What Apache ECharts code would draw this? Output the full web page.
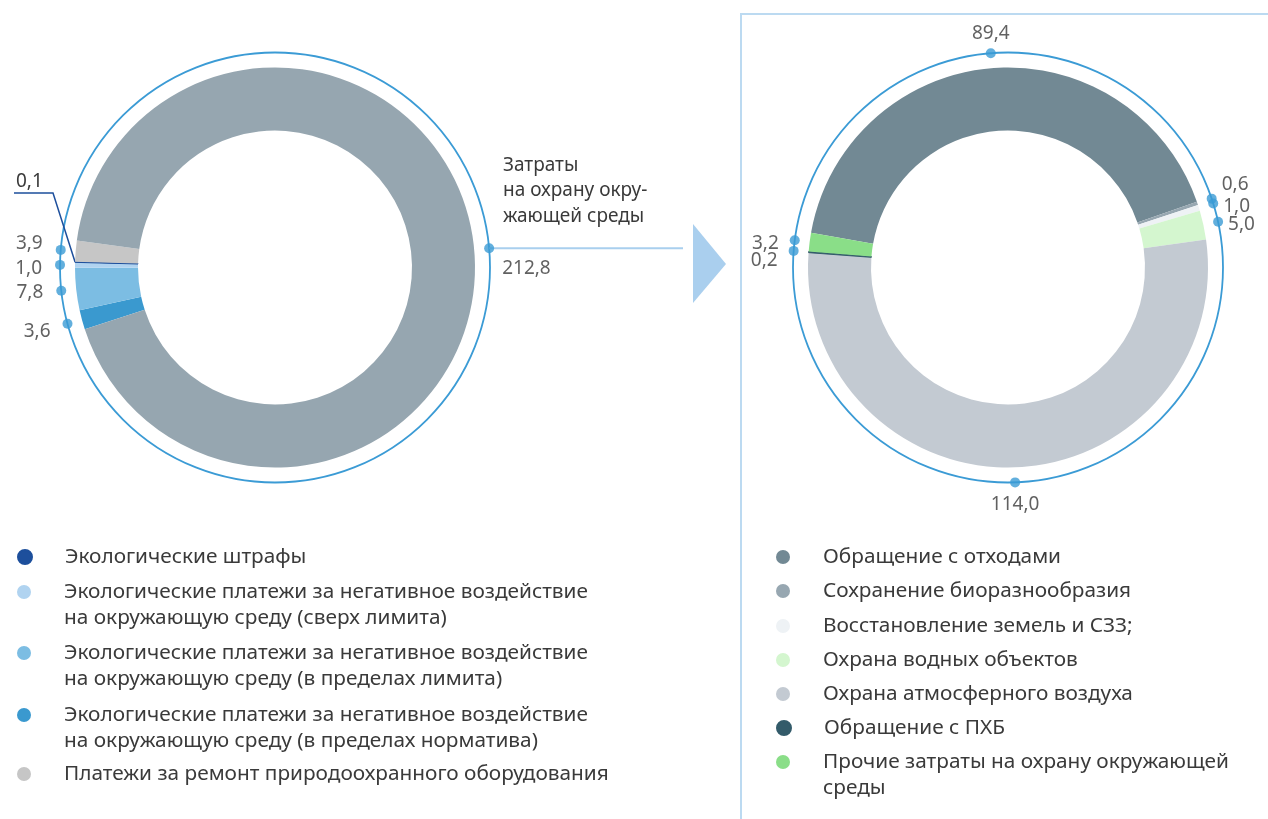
<!DOCTYPE html>
<html>
<head>
<meta charset="utf-8">
<script src="https://cdn.jsdelivr.net/npm/echarts@6/dist/echarts.min.js"></script>
<style>
  html, body { margin: 0; padding: 0; background: #fff; }
  #chart { width: 1268px; height: 819px; }
</style>
</head>
<body>
<div id="chart"></div>
<script>
// левая диаграмма: платежи (порядок как в легенде, последний - большой сектор)
var leftNames = [
  'Экологические штрафы',
  'Экологические платежи за негативное воздействие\nна окружающую среду (сверх лимита)',
  'Экологические платежи за негативное воздействие\nна окружающую среду (в пределах лимита)',
  'Экологические платежи за негативное воздействие\nна окружающую среду (в пределах норматива)',
  'Платежи за ремонт природоохранного оборудования',
  'Затраты на охрану окружающей среды'
];
var leftValues = [0.1, 1.0, 7.8, 3.6, 3.9, 212.8];
var leftColors = ['#1d4f9c', '#b0d3f0', '#7cbde3', '#3a99cf', '#c6c6c6', '#96a6b0'];
var leftOrder = [3, 2, 1, 0, 4, 5]; // по часовой стрелке

// правая диаграмма: структура затрат
var rightNames = [
  'Обращение с отходами',
  'Сохранение биоразнообразия',
  'Восстановление земель и СЗЗ;',
  'Охрана водных объектов',
  'Охрана атмосферного воздуха',
  'Обращение с ПХБ',
  'Прочие затраты на охрану окружающей\nсреды'
];
var rightValues = [89.4, 0.6, 1.0, 5.0, 114.0, 0.2, 3.2];
var rightColors = ['#728994', '#97a7b1', '#eef2f5', '#d4f6cf', '#c3cad2', '#335b6a', '#8ade88'];
var rightOrder = [0, 1, 2, 3, 4, 5, 6];

var totalTitle = 'Затраты\nна охрану окру-\nжающей среды';

var FONT = 'Noto Sans';
var TXT = '#3a3a3a';
var BLUE = '#3b9bd5';
var LH = 26;

// подписи у точек (по индексу в легенде)
var leftLabelCfg = [
  null,
  { position: 'left', distance: 13, offset: [0, 4] },
  { position: 'left', distance: 13, offset: [0, 2] },
  { position: 'left', distance: 12, offset: [0, 8] },
  { position: 'left', distance: 13, offset: [0, -6] },
  { position: [18, 25], align: 'left', verticalAlign: 'middle' }
];
var rightLabelCfg = [
  { position: 'top', distance: 5 },
  { position: 'right', distance: 5, offset: [0, -14] },
  { position: 'right', distance: 5, offset: [0, 3] },
  { position: 'right', distance: 5, offset: [0, 3] },
  { position: 'bottom', distance: 8 },
  { position: 'left', distance: 11, offset: [0, 10] },
  { position: 'left', distance: 11, offset: [0, 3] }
];
var leftLegendY = [557, 592, 653, 715, 774];
var rightLegendY = [557, 591, 626, 660, 694, 728, 762];

function fmt(v) { return v.toFixed(1).replace('.', ','); }
function sum(a) { return a.reduce(function (s, v) { return s + v; }, 0); }

function pieData(names, values, colors, order, leader) {
  return order.map(function (i) {
    var item = { name: names[i], value: values[i], itemStyle: { color: colors[i] } };
    if (i === leader) {
      item.itemStyle.borderColor = colors[i];
      item.itemStyle.borderWidth = 1;
      item.label = { show: true, position: 'outside', formatter: fmt(values[i]),
        fontSize: 19, fontFamily: FONT, color: TXT };
      item.labelLine = { show: true, length: 10, length2: 10, lineStyle: { color: colors[i], width: 1.5 } };
    }
    return item;
  });
}

function dotData(values, order, cfg) {
  var acc = 0, out = [];
  order.forEach(function (i) {
    var v = values[i];
    if (cfg[i]) {
      out.push({
        value: [1, acc + v / 2, v],
        label: Object.assign({ show: true, formatter: fmt(v), fontSize: 19, fontFamily: FONT, color: TXT }, cfg[i])
      });
    }
    acc += v;
  });
  return out;
}

// одна легенда на пункт: значок напротив первой строки
function legends(names, ys, x) {
  return names.map(function (n, k) {
    var extra = n.split('\n').length - 1;
    return {
      data: [n], left: x - 7, top: ys[k] - LH / 2 - extra * LH, padding: 0,
      icon: 'circle', itemWidth: 14, itemHeight: 14, selectedMode: false,
      formatter: function (name) { return new Array(extra + 1).join('\n') + name; },
      textStyle: { fontSize: 20.8, fontFamily: FONT, color: TXT, lineHeight: LH, padding: [0, 0, 0, 28] }
    };
  });
}

function angleAxis(idx, total, start) {
  return {
    polarIndex: idx, type: 'value', min: 0, max: total, startAngle: start, clockwise: true,
    axisLine: { show: true, lineStyle: { color: BLUE, width: 1.8 } },
    axisTick: { show: false }, axisLabel: { show: false }, splitLine: { show: false }
  };
}

var chart = echarts.init(document.getElementById('chart'));
var L_START = 198, R_START = 170;
var leaderPos = leftOrder.indexOf(0);

var option = {
  animation: false,
  backgroundColor: '#fff',
  textStyle: { fontFamily: FONT },
  polar: [
    { center: [275, 267.5], radius: 215 },
    { center: [1008, 267.5], radius: 215 }
  ],
  angleAxis: [angleAxis(0, sum(leftValues), L_START), angleAxis(1, sum(rightValues), R_START)],
  radiusAxis: [
    { polarIndex: 0, type: 'value', min: 0, max: 1, show: false },
    { polarIndex: 1, type: 'value', min: 0, max: 1, show: false }
  ],
  legend: legends(leftNames.slice(0, 5), leftLegendY, 24)
    .concat(legends(rightNames, rightLegendY, 783)),
  series: [
    {
      type: 'pie', center: [275, 267.5], radius: [137, 200], startAngle: L_START, clockwise: true,
      silent: true, avoidLabelOverlap: false,
      label: { show: false }, labelLine: { show: false },
      data: pieData(leftNames, leftValues, leftColors, leftOrder, 0),
      labelLayout: function (p) {
        if (p.dataIndex !== leaderPos || !p.labelLinePoints) return {};
        var a = p.labelLinePoints[0];
        return {
          x: 16, y: 191, align: 'left', verticalAlign: 'bottom',
          labelLinePoints: [a, [53, 193], [14, 193]]
        };
      }
    },
    {
      type: 'pie', center: [1008, 267.5], radius: [137, 200], startAngle: R_START, clockwise: true,
      silent: true, label: { show: false }, labelLine: { show: false },
      data: pieData(rightNames, rightValues, rightColors, rightOrder, 5)
        .map(function (d) { d.label = { show: false }; d.labelLine = { show: false }; return d; })
    },
    {
      type: 'scatter', coordinateSystem: 'polar', polarIndex: 0, symbolSize: 10, silent: true,
      itemStyle: { color: BLUE }, z: 5,
      data: dotData(leftValues, leftOrder, leftLabelCfg)
    },
    {
      type: 'scatter', coordinateSystem: 'polar', polarIndex: 1, symbolSize: 10, silent: true,
      itemStyle: { color: BLUE }, z: 5,
      data: dotData(rightValues, rightOrder, rightLabelCfg)
    }
  ]
};
chart.setOption(option);

// точка большого сектора - от неё линия к стрелке
var accBig = sum(leftValues) - leftValues[5] / 2;
var bp = chart.convertToPixel({ polarIndex: 0 }, [1, accBig]) || [490, 264];
var by = bp[1];

chart.setOption({
  graphic: [
    { type: 'line', z: 1, shape: { x1: bp[0], y1: by, x2: 683, y2: by },
      style: { stroke: '#a9cfee', lineWidth: 2 } },
    { type: 'text', z: 1, x: 503, y: by - 19, style: { text: totalTitle, fontSize: 19, fontFamily: FONT,
      lineHeight: 25.5, fill: TXT, verticalAlign: 'bottom' } },
    { type: 'polygon', z: 1, shape: { points: [[693, 224], [726, 264], [693, 303]] },
      style: { fill: '#aacfee' } },
    { type: 'polyline', z: 1, shape: { points: [[741, 819], [741, 14], [1268, 14]] },
      style: { stroke: '#bcdaf1', lineWidth: 2, fill: null } }
  ]
});
</script>
</body>
</html>
